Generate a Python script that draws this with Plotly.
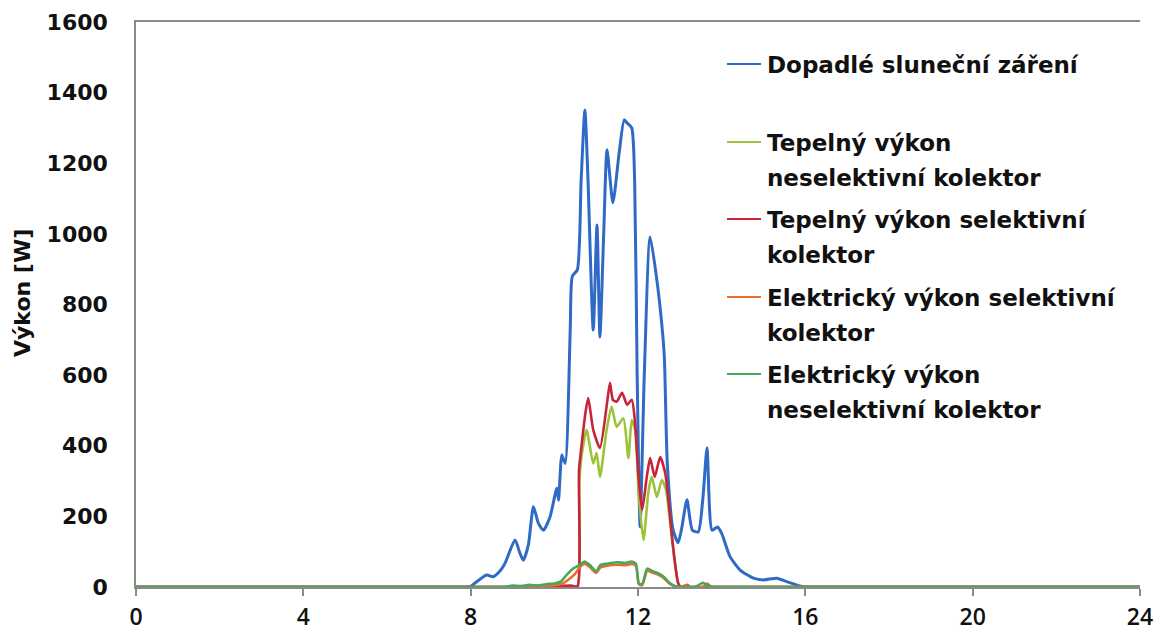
import plotly.graph_objects as go

# Hour of day and power [W] for each measured series
irr_hours = [0, 4, 7.5, 7.9, 8.0, 8.2, 8.38, 8.54, 8.7, 8.82, 9.06, 9.18, 9.26, 9.38, 9.5, 9.62, 9.74, 9.9,
             10.06, 10.1, 10.18, 10.26, 10.38, 10.43, 10.55, 10.64, 10.73, 10.8, 10.93, 11.02, 11.09,
             11.18, 11.26, 11.4, 11.55, 11.67, 11.74, 11.85, 11.92, 11.98, 12.05, 12.15, 12.29, 12.45,
             12.57, 12.63, 12.7, 12.84, 12.96, 13.05, 13.17, 13.3, 13.44, 13.55, 13.65, 13.77, 13.9,
             14.0, 14.2, 14.44, 14.76, 15.0, 15.32, 15.56, 15.87, 16.0, 16.5, 20, 24]
irr_power = [0, 0, 0, 0, 2, 20, 34, 29, 45, 67, 133, 95, 76, 120, 227, 180, 161, 200,
             280, 246, 374, 350, 728, 880, 898, 1150, 1351, 1170, 728, 1025, 708,
             1000, 1238, 1088, 1230, 1323, 1314, 1300, 1150, 600, 170, 600, 991, 870,
             742, 650, 351, 161, 125, 170, 247, 161, 156, 250, 394, 161, 170,
             152, 86, 48, 25, 20, 25, 15, 3, 0, 0, 0, 0]

th_ns_hours = [0, 4, 8, 9.5, 10.2, 10.45, 10.56, 10.6, 10.65, 10.77, 10.93, 11.01, 11.09, 11.25, 11.37,
               11.49, 11.65, 11.77, 11.85, 11.93, 12.02, 12.13, 12.25, 12.33, 12.45, 12.57, 12.67,
               12.77, 12.88, 12.96, 13.03, 13.2, 14, 16, 20, 24]
th_ns_power = [0, 0, 0, 0, 0, 0, 0, 300, 369, 445, 350, 379, 312, 445, 510,
               454, 478, 365, 473, 445, 260, 133, 270, 312, 255, 303, 275,
               181, 68, 11, 0, 0, 0, 0, 0, 0]

th_s_hours = [0, 4, 8, 9.3, 9.5, 9.8, 10.1, 10.4, 10.55, 10.59, 10.66, 10.74, 10.81, 10.93, 11.09,
              11.26, 11.33, 11.4, 11.49, 11.62, 11.74, 11.85, 11.93, 12.02, 12.1, 12.2, 12.29, 12.4,
              12.53, 12.65, 12.72, 12.84, 12.96, 13.02, 13.1, 13.17, 13.25, 13.55, 13.65, 13.75, 14,
              16, 20, 24]
th_s_power = [0, 0, 0, 0, 3, 4, 3, 4, 2, 330, 410, 490, 535, 445, 394,
              521, 578, 530, 525, 550, 516, 530, 465, 300, 218, 303, 365, 312,
              368, 323, 255, 113, 11, 0, 0, 6, 0, 0, 8, 0, 0,
              0, 0, 0]

el_s_hours = [0, 4, 8, 9.4, 9.7, 10.0, 10.2, 10.35, 10.5, 10.6, 10.72, 10.85, 11.0, 11.1, 11.26,
              11.5, 11.7, 11.85, 11.95, 12.02, 12.1, 12.22, 12.35, 12.5, 12.62, 12.75, 12.88,
              13.0, 13.15, 13.25, 13.55, 13.65, 13.75, 14, 16, 20, 24]
el_s_power = [0, 0, 0, 0, 3, 5, 10, 22, 38, 55, 66, 56, 40, 55, 60,
              63, 62, 65, 60, 8, 5, 46, 40, 34, 25, 10, 2,
              0, 5, 0, 0, 10, 0, 0, 0, 0, 0]

el_ns_hours = [0, 4, 8, 8.8, 9.0, 9.2, 9.4, 9.6, 9.8, 10.0, 10.15, 10.3, 10.45, 10.6, 10.72, 10.85,
               11.0, 11.1, 11.26, 11.5, 11.7, 11.85, 11.95, 12.02, 12.1, 12.22, 12.35, 12.5,
               12.62, 12.75, 12.88, 13.0, 13.4, 13.55, 13.7, 14.0, 16, 20, 24]
el_ns_power = [0, 0, 0, 0, 4, 3, 6, 4, 8, 10, 15, 35, 52, 62, 72, 62,
               45, 62, 66, 70, 68, 72, 66, 10, 8, 52, 45, 38,
               28, 12, 3, 0, 2, 12, 2, 0, 0, 0, 0]

x_ticks = [0, 4, 8, 12, 16, 20, 24]
y_ticks = [0, 200, 400, 600, 800, 1000, 1200, 1400, 1600]
y_title = "Výkon [W]"

series = [
    ("Dopadlé sluneční záření", irr_hours, irr_power, "#2f6ac6", 3.0),
    ("Tepelný výkon neselektivní kolektor", th_ns_hours, th_ns_power, "#9dc33b", 2.6),
    ("Tepelný výkon selektivní kolektor", th_s_hours, th_s_power, "#c7243a", 2.6),
    ("Elektrický výkon selektivní kolektor", el_s_hours, el_s_power, "#ee6b2b", 2.6),
    ("Elektrický výkon neselektivní kolektor", el_ns_hours, el_ns_power, "#45a85a", 2.6),
]
# Legend text, wrapped over lines as in the legend box
legend_lines = [
    ["Dopadlé sluneční záření"],
    ["Tepelný výkon", "neselektivní kolektor"],
    ["Tepelný výkon selektivní", "kolektor"],
    ["Elektrický výkon selektivní", "kolektor"],
    ["Elektrický výkon", "neselektivní kolektor"],
]

W, H = 1169, 636
L, R, T, B = 136, 29, 22, 49
plot_w, plot_h = W - L - R, H - T - B


def px(x):
    return (x - L) / plot_w


def py(y):
    return (H - B - y) / plot_h


fig = go.Figure()
for name, hx, pw, color, lw in series:
    fig.add_trace(go.Scatter(
        x=hx, y=pw, name=name, mode="lines",
        line=dict(color=color, width=lw, shape="spline", smoothing=0.6),
    ))

text_font = dict(family="DejaVu Sans", size=23, color="#111111", weight="bold")
axis_color = "#8a8a8a"

fig.update_layout(
    width=W, height=H,
    margin=dict(l=L, r=R, t=T, b=B),
    plot_bgcolor="white", paper_bgcolor="white",
    showlegend=False,
    xaxis=dict(
        range=[0, 24], tickvals=x_ticks, showgrid=False, zeroline=False,
        showline=True, linecolor=axis_color, linewidth=1.5, mirror=True,
        ticks="outside", ticklen=7, tickcolor=axis_color, tickwidth=1.5,
        tickfont=dict(family="Open Sans", size=23, color="#111111", weight=600),
        ticklabelstandoff=2, automargin=False,
    ),
    yaxis=dict(
        range=[0, 1600], tickvals=y_ticks, showgrid=False, zeroline=False,
        showline=True, linecolor=axis_color, linewidth=1.5,
        ticks="", ticklabelstandoff=22, automargin=False,
        tickfont=dict(family="DejaVu Sans", size=22, color="#111111", weight="bold"),
    ),
)

# y-axis title
fig.add_annotation(
    xref="paper", yref="paper", x=px(22), y=py(293), text=y_title,
    textangle=-90, showarrow=False, xanchor="center", yanchor="middle",
    font=dict(family="DejaVu Sans", size=22, color="#111111", weight="bold"),
)

# Legend block on the right side of the plot
symbol_y = [64, 142, 219, 297, 374]
line_gap = 35
for (name, hx, pw, color, lw), lines, sy in zip(series, legend_lines, symbol_y):
    fig.add_shape(
        type="line", xref="paper", yref="paper",
        x0=px(727), x1=px(761), y0=py(sy), y1=py(sy),
        line=dict(color=color, width=2.2),
    )
    for i, txt in enumerate(lines):
        fig.add_annotation(
            xref="paper", yref="paper", x=px(765), y=py(sy + 1 + i * line_gap),
            text=txt, showarrow=False, xanchor="left", yanchor="middle",
            font=text_font,
        )

fig.write_html("out.html")
